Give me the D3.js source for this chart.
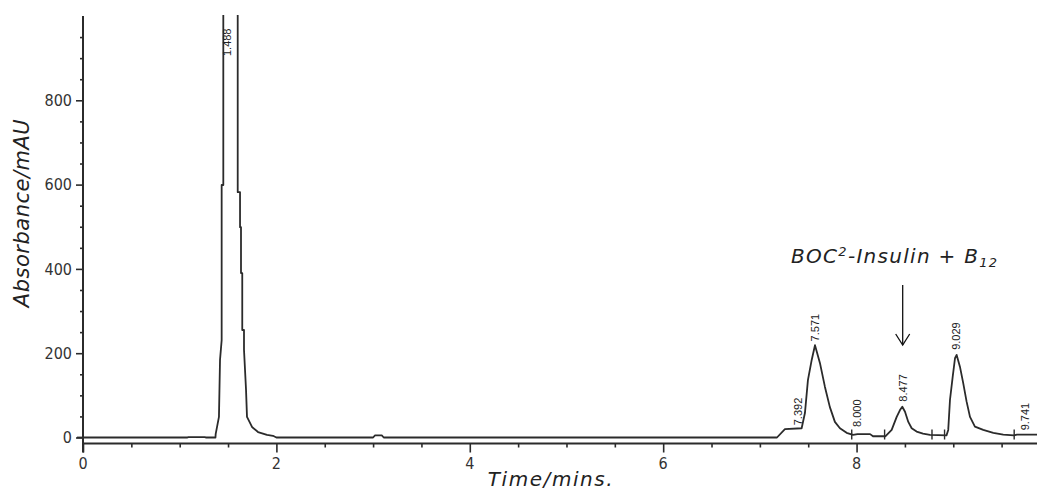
<!DOCTYPE html>
<html lang="en">
<head>
    <meta charset="UTF-8">
    <title>HPLC chromatogram</title>
    <style>
        body { margin: 0; background: #fff; }
        .tick-label { font-family: "Liberation Sans Narrow", "DejaVu Sans Condensed", sans-serif; font-stretch: condensed; fill: #333; }
        .peak-label { font-family: "Liberation Sans", Arial, sans-serif; fill: #222; }
        .title { font-family: "DejaVu Sans", "Noto Sans", sans-serif; font-style: italic; fill: #222; }
    </style>
</head>
<body>

<div id="chart"></div>

<script src="https://d3js.org/d3.v7.min.js"></script>

<script>
    // Detector trace: [time (min), absorbance (mAU)]
    var trace = [
        [0, 0], [1.08, 0], [1.09, 1], [1.26, 1], [1.27, 0], [1.37, 0],
        [1.372, 8], [1.406, 49], [1.417, 184], [1.434, 231], [1.434, 599], [1.451, 599],
        [1.451, 1000], [1.46, 1100], [1.59, 1100], [1.600, 1000], [1.600, 582], [1.624, 582],
        [1.624, 499], [1.634, 499], [1.634, 390], [1.647, 390], [1.647, 255], [1.665, 255],
        [1.665, 208], [1.686, 113], [1.696, 49], [1.748, 25], [1.81, 13], [1.903, 6],
        [1.965, 4], [2.0, 0],
        [3.0, 0], [3.02, 5], [3.09, 5], [3.11, 0],
        [7.177, 0], [7.259, 20], [7.432, 22], [7.466, 58], [7.497, 136], [7.536, 184],
        [7.570, 219], [7.621, 177], [7.673, 120], [7.724, 72], [7.776, 37], [7.828, 22],
        [7.897, 11], [7.963, 6], [8.01, 8], [8.14, 8], [8.17, 3], [8.30, 3],
        [8.363, 18], [8.415, 49], [8.449, 65], [8.473, 73], [8.501, 61], [8.535, 37],
        [8.570, 22], [8.621, 14], [8.687, 9], [8.759, 6], [8.93, 5],
        [8.948, 18], [8.966, 89], [8.994, 144], [9.018, 188], [9.035, 196], [9.069, 168],
        [9.103, 129], [9.138, 85], [9.173, 49], [9.224, 26], [9.310, 18], [9.414, 11],
        [9.517, 7], [9.628, 5], [9.659, 7], [9.87, 7]
    ];

    // Peak retention times, printed labels and the absorbance where each label starts
    var peakTimes = [1.488, 7.392, 7.571, 8.000, 8.477, 9.029, 9.741];
    var peakLabels = ["1.488", "7.392", "7.571", "8.000", "8.477", "9.029", "9.741"];
    var labelBase = [905, 29, 228, 25, 85, 208, 17];

    // Integration event marks on the baseline (min)
    var eventTimes = [7.95, 8.29, 8.78, 8.91, 9.63];

    var xTicksMajor = [0, 2, 4, 6, 8];
    var yTicksMajor = [0, 200, 400, 600, 800];

    var annotation = {text: "BOC", sup: "2", mid: "-Insulin + B", sub: "12", time: 8.477};

    var W = 1037, H = 493;
    var plot = {left: 83, right: 1037, top: 16, zero: 437.5, axisY: 443.5};

    var svg = d3.select("#chart").append("svg")
        .attr("width", W)
        .attr("height", H)
        .style("display", "block");

    svg.append("rect").attr("width", W).attr("height", H).attr("fill", "#fff");

    var x = d3.scaleLinear().domain([0, 9.866]).range([plot.left, plot.right]);
    var y = d3.scaleLinear().domain([0, 1000]).range([plot.zero, plot.top]);

    var ink = "#2b2b2b";

    // spread a text's letters so it covers the width seen in the picture
    function fitWidth(sel, target) {
        var node = sel.node();
        var n = node.textContent.length;
        var len = node.getComputedTextLength();
        sel.attr("letter-spacing", ((target - len) / (n - 1)).toFixed(2));
    }

    svg.append("clipPath").attr("id", "clip")
        .append("rect")
        .attr("x", plot.left).attr("y", plot.top - 1)
        .attr("width", plot.right - plot.left).attr("height", plot.zero - plot.top + 10);

    // y axis
    var yAxis = d3.axisLeft(y)
        .tickValues(d3.range(0, 1000, 50))
        .tickSize(3)
        .tickFormat("");
    var gy = svg.append("g")
        .attr("transform", "translate(" + plot.left + ",0)")
        .call(yAxis);
    gy.select(".domain").remove();
    gy.selectAll(".tick line")
        .attr("stroke", ink).attr("stroke-width", 1.6)
        .attr("x2", d => d % 200 === 0 ? -7 : -3);

    svg.append("line")
        .attr("x1", plot.left).attr("x2", plot.left)
        .attr("y1", plot.top).attr("y2", plot.axisY + 9)
        .attr("stroke", ink).attr("stroke-width", 2);

    svg.selectAll(".ylab")
        .data(yTicksMajor)
        .enter().append("text")
        .attr("class", "tick-label")
        .attr("x", plot.left - 11)
        .attr("y", d => y(d))
        .attr("dy", "0.36em")
        .attr("text-anchor", "end")
        .attr("font-size", 16)
        .text(d => d);

    // x axis, drawn a little below the zero line
    var xAxis = d3.axisBottom(x)
        .tickValues(d3.range(0, 9.9, 0.5))
        .tickSize(4)
        .tickFormat("");
    var gx = svg.append("g")
        .attr("transform", "translate(0," + plot.axisY + ")")
        .call(xAxis);
    gx.select(".domain").remove();
    gx.selectAll(".tick line")
        .attr("stroke", ink).attr("stroke-width", 1.6)
        .attr("y2", d => Math.abs(d % 2) < 1e-6 ? 9 : 4);

    svg.append("line")
        .attr("x1", plot.left).attr("x2", plot.right)
        .attr("y1", plot.axisY).attr("y2", plot.axisY)
        .attr("stroke", ink).attr("stroke-width", 2);

    svg.selectAll(".xlab")
        .data(xTicksMajor)
        .enter().append("text")
        .attr("class", "tick-label")
        .attr("x", d => x(d))
        .attr("y", 469)
        .attr("text-anchor", "middle")
        .attr("font-size", 16)
        .text(d => d);

    // trace
    var line = d3.line()
        .x(d => x(d[0]))
        .y(d => y(d[1]));

    svg.append("path")
        .datum(trace)
        .attr("clip-path", "url(#clip)")
        .attr("fill", "none")
        .attr("stroke", ink)
        .attr("stroke-width", 1.8)
        .attr("stroke-linejoin", "round")
        .attr("d", line);

    // zero line continues left to the axis
    svg.append("line")
        .attr("x1", plot.left - 6).attr("x2", plot.left)
        .attr("y1", y(0)).attr("y2", y(0))
        .attr("stroke", ink).attr("stroke-width", 1.8);

    // integration event marks
    svg.selectAll(".event")
        .data(eventTimes)
        .enter().append("line")
        .attr("x1", d => x(d)).attr("x2", d => x(d))
        .attr("y1", y(0) - 8).attr("y2", y(0) + 2)
        .attr("stroke", ink).attr("stroke-width", 1.4);

    // peak labels, rotated
    svg.selectAll(".peak-label")
        .data(peakTimes)
        .enter().append("text")
        .attr("class", "peak-label")
        .attr("font-size", 11)
        .attr("transform", (d, i) => "translate(" + (x(d) + 4) + "," + y(labelBase[i]) + ") rotate(-90)")
        .text((d, i) => peakLabels[i]);

    // axis titles
    var yTitle = svg.append("text")
        .attr("class", "title")
        .attr("font-size", 21)
        .attr("text-anchor", "middle")
        .attr("transform", "translate(29,213) rotate(-90)")
        .text("Absorbance/mAU");
    fitWidth(yTitle, 188);

    var xTitle = svg.append("text")
        .attr("class", "title")
        .attr("font-size", 20)
        .attr("text-anchor", "middle")
        .attr("x", 551)
        .attr("y", 486)
        .text("Time/mins.");
    fitWidth(xTitle, 125);

    // annotation with arrow
    var ax = x(annotation.time);
    var ann = svg.append("text")
        .attr("class", "title")
        .attr("font-size", 20)
        .attr("text-anchor", "middle")
        .attr("x", ax - 8)
        .attr("y", 263);
    ann.append("tspan").text(annotation.text);
    ann.append("tspan").attr("font-size", 13).attr("dy", -7).text(annotation.sup);
    ann.append("tspan").attr("dy", 7).text(annotation.mid);
    ann.append("tspan").attr("font-size", 13).attr("dy", 4).text(annotation.sub);
    fitWidth(ann, 206);

    svg.append("line")
        .attr("x1", ax).attr("x2", ax)
        .attr("y1", 285).attr("y2", 345)
        .attr("stroke", "#111").attr("stroke-width", 1.3);
    svg.append("polyline")
        .attr("points", [[ax - 7, 334], [ax, 345], [ax + 7, 334]].join(" "))
        .attr("fill", "none")
        .attr("stroke", "#111").attr("stroke-width", 1.3);
</script>

</body>
</html>
